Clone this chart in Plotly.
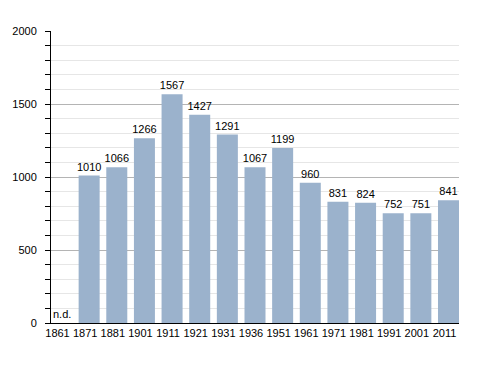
import plotly.graph_objects as go

years = ["1861", "1871", "1881", "1901", "1911", "1921", "1931", "1936",
         "1951", "1961", "1971", "1981", "1991", "2001", "2011"]
population = [None, 1010, 1066, 1266, 1567, 1427, 1291, 1067,
              1199, 960, 831, 824, 752, 751, 841]
labels = ["" if v is None else str(v) for v in population]

FONT = "Liberation Sans, Arial, sans-serif"

fig = go.Figure()
fig.add_trace(go.Bar(
    x=years, y=population, text=labels, textposition="outside",
    constraintext="none",
    textfont=dict(size=11, color="#000000", family=FONT),
    marker=dict(color="#9bb2cc", line=dict(width=0)),
    cliponaxis=False, hoverinfo="x+y",
))

fig.add_annotation(x=-0.38, y=0, xref="x", yref="y", text="n.d.", showarrow=False,
                   xanchor="left", yanchor="bottom", yshift=1,
                   font=dict(size=11, color="#000000", family=FONT))

fig.update_layout(
    width=488, height=373,
    margin=dict(l=51, r=29, t=31, b=50, autoexpand=False),
    paper_bgcolor="white", plot_bgcolor="white",
    bargap=0.24, showlegend=False,
    font=dict(family=FONT, size=11, color="#000000"),
)
fig.update_xaxes(
    type="category", showgrid=False, showline=True, linecolor="#000000", linewidth=1,
    ticks="", tickfont=dict(size=11, color="#000000"), range=[-0.38, 14.38],
    automargin=False, ticklabelshift=-4, ticklabelstandoff=0,
)
fig.update_yaxes(
    range=[0, 2000], tickvals=[0, 500, 1000, 1500, 2000], showline=True,
    linecolor="#000000", linewidth=1, ticks="outside", ticklen=5, tickcolor="#000000",
    gridcolor="#b4b4b4", gridwidth=1, zeroline=False,
    tickfont=dict(size=11, color="#000000"), ticklabelstandoff=6,
    automargin=False,
    minor=dict(dtick=100, showgrid=True, gridcolor="#e6e6e6", ticks="outside",
               ticklen=5, tickcolor="#000000"),
)
fig.write_html("out.html", config={"displayModeBar": False},
               post_script="document.body.style.margin='0';")
